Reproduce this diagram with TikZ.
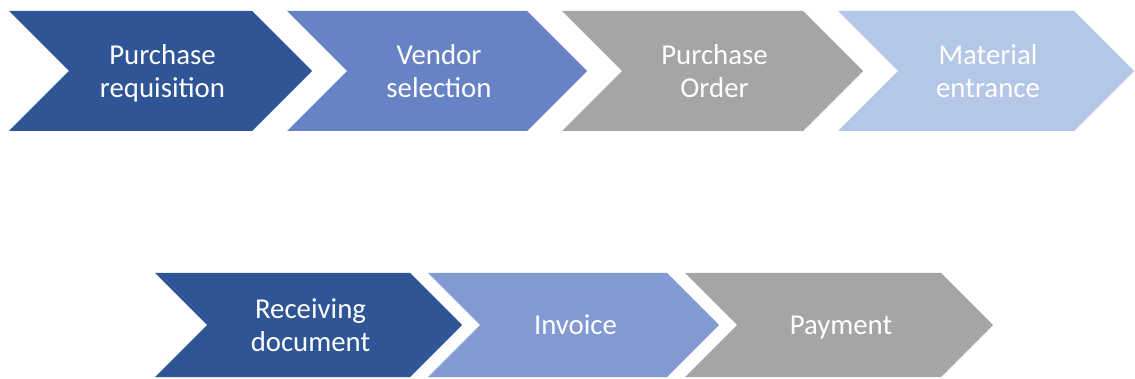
\documentclass[tikz,border=0pt]{standalone}
\usepackage{fontspec}
\setmainfont{Carlito}
\definecolor{cdark}{HTML}{2F5597}
\definecolor{cvend}{HTML}{6783C5}
\definecolor{cgray}{HTML}{A5A5A5}
\definecolor{clight}{HTML}{B4C7E7}
\definecolor{cinv}{HTML}{8399D1}
\tikzset{
  lbl/.style={text=white, align=center, inner sep=0pt, font=\fontsize{28.8}{33}\selectfont},
}
% name, left x, tip x, mid y, half height, colour, text
\newcommand{\mychev}[7]{%
  \fill[#6] (#2,#4-#5) -- (#3-#5,#4-#5) -- (#3,#4) -- (#3-#5,#4+#5) -- (#2,#4+#5) -- (#2+#5,#4) -- cycle;
  \node[lbl] (#1) at ({(#2+#3)/2+2},#4+3) {#7};
}
\begin{document}
\begin{tikzpicture}[x=1pt,y=-1pt]
\useasboundingbox (0,0) rectangle (1135,379);
\mychev{pr}{9}{312}{71}{60}{cdark}{\strut Purchase\\\strut requisition}
\mychev{vs}{287}{587}{71}{60}{cvend}{\strut Vendor\\\strut selection}
\mychev{po}{562}{863}{71}{60}{cgray}{\strut Purchase\\\strut Order}
\mychev{me}{838}{1134}{71}{60}{clight}{\strut Material\\\strut entrance}
\mychev{rd}{155}{462}{325}{52}{cdark}{\strut Receiving\\\strut document}
\mychev{iv}{428}{719}{325}{52}{cinv}{\strut Invoice}
\mychev{pa}{685}{993}{325}{52}{cgray}{\strut Payment}
\end{tikzpicture}
\end{document}
